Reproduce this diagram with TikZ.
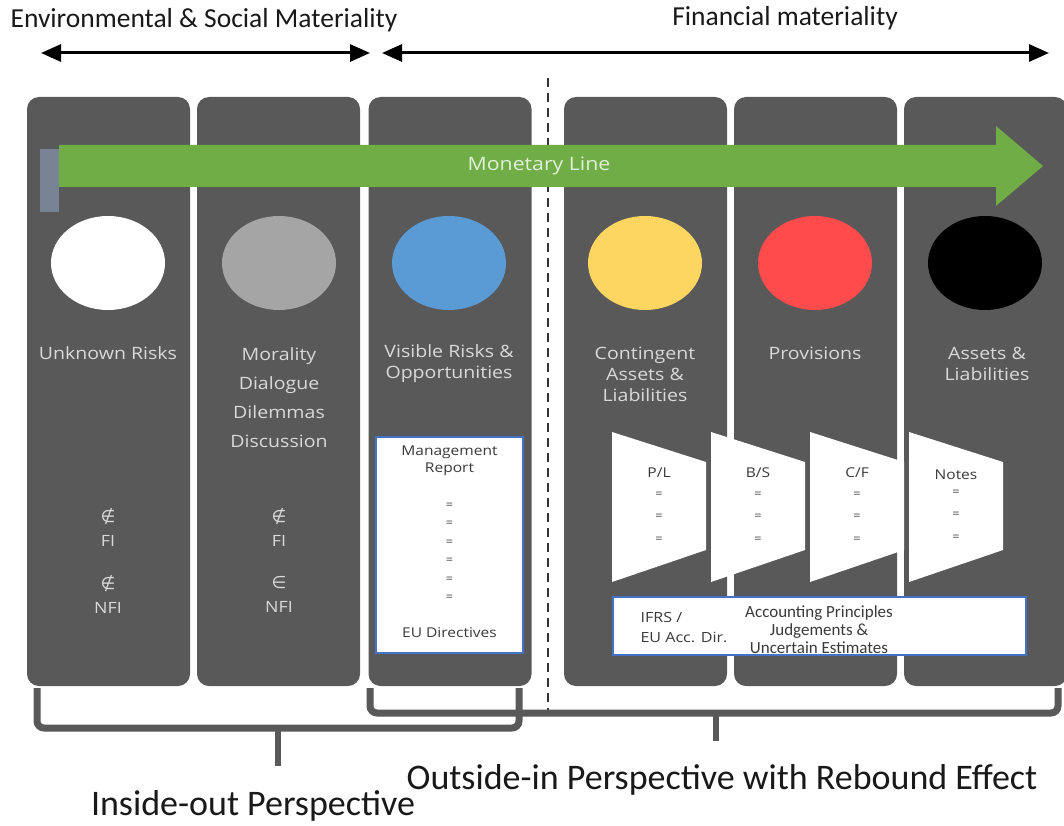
\documentclass[tikz,border=0pt]{standalone}
\usepackage{fontspec}
\setmainfont{Carlito}
\newfontfamily\colfont[FakeStretch=1.15]{Open Sans}
\newfontfamily\symfont{DejaVu Sans}
\usetikzlibrary{arrows.meta,shapes.geometric}
\definecolor{colgray}{HTML}{595959}
\definecolor{coltext}{HTML}{D9D9D9}
\definecolor{mgreen}{HTML}{70AD47}
\definecolor{mgreentext}{HTML}{E2EFDA}
\definecolor{slate}{HTML}{768496}
\definecolor{cgray}{HTML}{A5A5A5}
\definecolor{cblue}{HTML}{5B9BD5}
\definecolor{cyellow}{HTML}{FDD662}
\definecolor{cred}{HTML}{FF4B4B}
\definecolor{boxblue}{HTML}{4472C4}
\definecolor{boxtext}{HTML}{3A3A3A}
\begin{document}
\begin{tikzpicture}[x=1pt,y=-1pt,
  column/.style={fill=colgray, rounded corners=12pt, minimum width=163pt, minimum height=589pt, inner sep=0pt},
  coin/.style={ellipse, minimum width=114pt, minimum height=94pt, inner sep=0pt},
  collabel/.style={text=coltext, font=\colfont\fontsize{17}{21}\selectfont, align=center},
  setlabel/.style={text=coltext, font=\colfont\fontsize{15.5}{24}\selectfont, align=center},
  wbox/.style={fill=white, draw=boxblue, line width=1.3pt, inner sep=0pt},
  boxlabel/.style={text=boxtext, font=\colfont\fontsize{13.5}{17}\selectfont, align=center},
  eqmark/.style={text=boxtext, font=\colfont\fontsize{11}{11}\selectfont, inner sep=0pt},
  funnel/.style={fill=white},
  topline/.style={line width=3pt, {Triangle[length=20pt,width=17pt]}-{Triangle[length=20pt,width=17pt]}},
  bracket/.style={draw=colgray, line width=7pt, rounded corners=7pt},
  title/.style={text=black!90, font=\fontsize{27.5}{27.5}\selectfont},
  persp/.style={text=black!90, font=\fontsize{36}{36}\selectfont}
]
\useasboundingbox (0,0) rectangle (1064,826);
\fill[white] (0,0) rectangle (1064,826);

% titles and top arrows
\node[title] (t1) at (204,20) {Environmental \& Social Materiality};
\node[title] (t2) at (785,18) {Financial materiality};
\coordinate (a1l) at (41,53);
\coordinate (a1r) at (370,53);
\coordinate (a2l) at (382,53);
\coordinate (a2r) at (1049,53);
\draw[topline] (a1l) -- (a1r);
\draw[topline] (a2l) -- (a2r);

% columns
\node[column] (c1) at (108.5,391.5) {};
\node[column] (c2) at (278.5,391.5) {};
\node[column] (c3) at (450,391.5) {};
\node[column] (c4) at (645.5,391.5) {};
\node[column] (c5) at (815.5,391.5) {};
\node[column] (c6) at (985.5,391.5) {};

% dashed separator
\coordinate (dtop) at (548,78);
\coordinate (dbot) at (548,712);
\draw[line width=2.5pt, draw=black!80, dash pattern=on 9pt off 6pt] (dtop) -- (dbot);

% monetary line
\fill[slate] (40,149) rectangle (59,212);
\fill[mgreen] (59,145) -- (996,145) -- (996,126) -- (1043,166) -- (996,206) -- (996,187) -- (59,187) -- cycle;
\node[text=mgreentext, font=\colfont\fontsize{18.5}{18.5}\selectfont] (ml) at (539,166) {Monetary Line};

% coins
\node[coin, fill=white] (e1) at (108,263) {};
\node[coin, fill=cgray] (e2) at (279,263) {};
\node[coin, fill=cblue] (e3) at (449,263) {};
\node[coin, fill=cyellow] (e4) at (645,263) {};
\node[coin, fill=cred] (e5) at (815,263) {};
\node[coin, fill=black] (e6) at (985,263) {};

% column labels
\node[collabel] (l1) at (108,353) {Unknown Risks};
\node[collabel, font=\colfont\fontsize{17}{29}\selectfont] (l2) at (279,398) {Morality\\Dialogue\\Dilemmas\\Discussion};
\node[collabel] (l3) at (449,364) {Visible Risks \&\\Opportunities};
\node[collabel] (l4) at (645,374) {Contingent\\Assets \&\\Liabilities};
\node[collabel] (l5) at (815,353) {Provisions};
\node[collabel] (l6) at (987,364) {Assets \&\\Liabilities};

% membership marks
\node[setlabel] (s1a) at (108,527) {{\symfont\fontsize{17}{17}\selectfont∉}\\FI};
\node[setlabel] (s1b) at (108,594) {{\symfont\fontsize{17}{17}\selectfont∉}\\NFI};
\node[setlabel] (s2a) at (279,527) {{\symfont\fontsize{17}{17}\selectfont∉}\\FI};
\node[setlabel] (s2b) at (279,594) {{\symfont\fontsize{17}{17}\selectfont∈}\\NFI};

% management report box
\node[wbox, minimum width=147pt, minimum height=216pt] (mr) at (449.5,545) {};
\node[boxlabel] (mrt) at (449.5,461) {Management\\Report};
\foreach \yy [count=\i] in {506,524,543,561,580,598} {
  \node[eqmark] (mq\i) at (449.5,\yy) {=};
}
\node[boxlabel] (eud) at (449.5,633) {EU Directives};

% funnels
\foreach \xx/\nm/\lab in {612/pl/P\slash L, 711/bs/B\slash S, 810/cf/C\slash F} {
  \fill[funnel] (\xx,432) -- (\xx+94,462) -- (\xx+94,550) -- (\xx,582) -- cycle;
  \node[boxlabel] (\nm) at (\xx+47,473) {\lab};
  \node[eqmark] (\nm q1) at (\xx+47,495) {=};
  \node[eqmark] (\nm q2) at (\xx+47,517) {=};
  \node[eqmark] (\nm q3) at (\xx+47,540) {=};
}
\fill[funnel] (909,432) -- (1003,462) -- (1003,550) -- (909,582) -- cycle;
\node[boxlabel] (nt) at (956,475) {Notes};
\node[eqmark] (ntq1) at (956,493) {=};
\node[eqmark] (ntq2) at (956,515) {=};
\node[eqmark] (ntq3) at (956,538) {=};

% accounting box
\node[wbox, minimum width=413pt, minimum height=58pt] (ab) at (819.5,626) {};
\node[boxlabel, align=left, anchor=west, font=\colfont\fontsize{14}{20}\selectfont] (ifrs) at (637,628) {IFRS /\\EU Acc. Dir.};
\node[boxlabel, font=\fontsize{17}{18}\selectfont] (ap) at (819,630) {Accounting Principles\\Judgements \&\\Uncertain Estimates};

% brackets
\coordinate (b1l) at (37,688);
\coordinate (b1r) at (519,688);
\coordinate (b1m) at (278,728);
\coordinate (b1s) at (278,766);
\draw[bracket] (b1l) -- (37,728) -- (519,728) -- (b1r);
\draw[draw=colgray, line width=6pt] (b1m) -- (b1s);
\coordinate (b2l) at (370,688);
\coordinate (b2r) at (1058,688);
\coordinate (b2m) at (716,713);
\coordinate (b2s) at (716,741);
\draw[bracket] (b2l) -- (370,713) -- (1058,713) -- (b2r);
\draw[draw=colgray, line width=6pt] (b2m) -- (b2s);

\node[persp] (p1) at (722,780) {Outside-in Perspective with Rebound Effect};
\node[persp] (p2) at (253,806) {Inside-out Perspective};
\end{tikzpicture}
\end{document}
